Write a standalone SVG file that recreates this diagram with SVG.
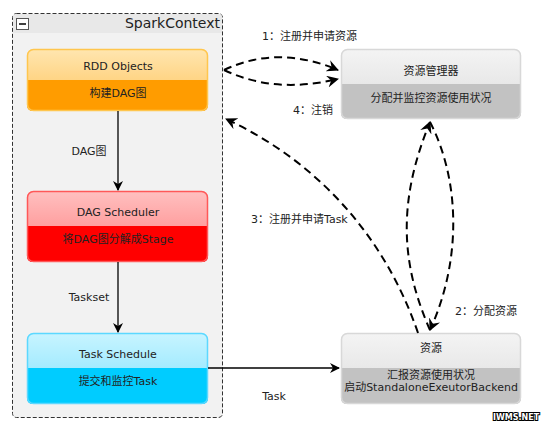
<svg xmlns="http://www.w3.org/2000/svg" width="550" height="428" viewBox="0 0 550 428">
<style>
text{font-family:"DejaVu Sans","Noto Sans CJK SC",sans-serif;font-size:11px;fill:#222}
.c{text-anchor:middle}
.dash{fill:none;stroke:#000;stroke-width:2;stroke-dasharray:8,5}
.solid{fill:none;stroke:#000;stroke-width:1.3}
</style>
<defs>
<marker id="ah" markerWidth="12" markerHeight="12" viewBox="0 0 12 12" refX="11" refY="6" orient="auto" markerUnits="userSpaceOnUse">
<path d="M0,0 L12,6 L0,12 L4,6 Z" fill="#000"/>
</marker>
<marker id="as" markerWidth="10" markerHeight="10" viewBox="0 0 10 10" refX="9" refY="5" orient="auto" markerUnits="userSpaceOnUse">
<path d="M0,0 L10,5 L0,10 L3,5 Z" fill="#000"/>
</marker>
<linearGradient id="gO" x1="0" y1="0" x2="0" y2="1"><stop offset="0" stop-color="#ffe6b0"/><stop offset="1" stop-color="#ffc35a"/></linearGradient>
<linearGradient id="gR" x1="0" y1="0" x2="0" y2="1"><stop offset="0" stop-color="#ffc0c0"/><stop offset="1" stop-color="#ff7e7e"/></linearGradient>
<linearGradient id="gB" x1="0" y1="0" x2="0" y2="1"><stop offset="0" stop-color="#c8f4ff"/><stop offset="1" stop-color="#7fe2ff"/></linearGradient>
<linearGradient id="gG" x1="0" y1="0" x2="0" y2="1"><stop offset="0" stop-color="#f4f4f4"/><stop offset="1" stop-color="#dcdcdc"/></linearGradient>
</defs>

<g id="sparkcontext">
<rect x="12.5" y="13.5" width="210" height="404" rx="4" fill="#f2f2f2" stroke="#333" stroke-dasharray="4,2"/>
<path d="M13,33 V17 Q13,14 16,14 H219 Q222,14 222,17 V33 Z" fill="#e8e8e8"/>
<rect x="16.5" y="18.5" width="12" height="11" fill="#fff" stroke="#555"/>
<line x1="19" y1="24" x2="26" y2="24" stroke="#000" stroke-width="1.5"/>
<text x="220" y="28" style="font-size:14px;text-anchor:end">SparkContext</text>
</g>

<g id="rdd">
<rect x="27" y="49" width="181" height="62" rx="6" fill="url(#gO)"/>
<path d="M27,80 H208 V105 Q208,111 202,111 H33 Q27,111 27,105 Z" fill="#ff9c00"/>
<rect x="27.5" y="49.5" width="180" height="61" rx="6" fill="none" stroke="#ffc64e" stroke-width="1.5"/>
<text class="c" x="118" y="70">RDD Objects</text>
<text class="c" x="118" y="97">构建DAG图</text>
</g>

<g id="dagscheduler">
<rect x="27" y="191" width="181" height="71" rx="6" fill="url(#gR)"/>
<path d="M27,226 H208 V256 Q208,262 202,262 H33 Q27,262 27,256 Z" fill="#ff0000"/>
<rect x="27.5" y="191.5" width="180" height="70" rx="6" fill="none" stroke="#ff5858" stroke-width="1.5"/>
<text class="c" x="118" y="216">DAG Scheduler</text>
<text class="c" x="118" y="243">将DAG图分解成Stage</text>
</g>

<g id="taskschedule">
<rect x="27" y="333" width="181" height="71" rx="6" fill="url(#gB)"/>
<path d="M27,368 H208 V398 Q208,404 202,404 H33 Q27,404 27,398 Z" fill="#00ccff"/>
<rect x="27.5" y="333.5" width="180" height="70" rx="6" fill="none" stroke="#5cd8ff" stroke-width="1.5"/>
<text class="c" x="118" y="358">Task Schedule</text>
<text class="c" x="118" y="385">提交和监控Task</text>
</g>

<g id="manager">
<rect x="341" y="49" width="180" height="70" rx="6" fill="url(#gG)"/>
<path d="M341,84 H521 V113 Q521,119 515,119 H347 Q341,119 341,113 Z" fill="#c2c2c2"/>
<rect x="341.5" y="49.5" width="179" height="69" rx="6" fill="none" stroke="#d8d8d8" stroke-width="1.5"/>
<text class="c" x="431" y="75">资源管理器</text>
<text class="c" x="431" y="102">分配并监控资源使用状况</text>
</g>

<g id="resource">
<rect x="341" y="333" width="180" height="71" rx="6" fill="url(#gG)"/>
<path d="M341,368 H521 V398 Q521,404 515,404 H347 Q341,404 341,398 Z" fill="#c2c2c2"/>
<rect x="341.5" y="333.5" width="179" height="70" rx="6" fill="none" stroke="#d8d8d8" stroke-width="1.5"/>
<text class="c" x="431" y="352">资源</text>
<text class="c" x="431" y="379">汇报资源使用状况</text>
<text class="c" x="431" y="391">启动StandaloneExeutorBackend</text>
</g>

<g id="connectors">
<line class="solid" x1="118" y1="111" x2="118" y2="190" marker-end="url(#as)"/>
<line class="solid" x1="118" y1="262" x2="118" y2="332" marker-end="url(#as)"/>
<line class="solid" x1="208" y1="368" x2="339" y2="368" marker-end="url(#as)"/>
<path class="dash" d="M224,70 C262,52 300,54 338,70" marker-end="url(#ah)"/>
<path class="dash" d="M224,70 C262,88 300,88 338,79" marker-end="url(#ah)"/>
<path class="dash" d="M418,333 C388,245 325,165 226,119" marker-end="url(#ah)"/>
<path class="dash" d="M430,330 C400,262 398,200 430,122" marker-end="url(#ah)"/>
<path class="dash" d="M430,122 C460,180 462,260 430,330" marker-end="url(#ah)"/>
</g>

<g id="labels">
<text x="89" y="155" class="c">DAG图</text>
<text x="89" y="301" class="c">Taskset</text>
<text x="274" y="400" class="c">Task</text>
<text x="262" y="40">1：注册并申请资源</text>
<text x="293" y="114">4：注销</text>
<text x="251" y="223">3：注册并申请Task</text>
<text x="455" y="315">2：分配资源</text>
<text x="516" y="420" class="c" style="font-size:8px;font-weight:bold;fill:#fff;stroke:#000;stroke-width:2;paint-order:stroke">IWMS.NET</text>
</g>
</svg>
